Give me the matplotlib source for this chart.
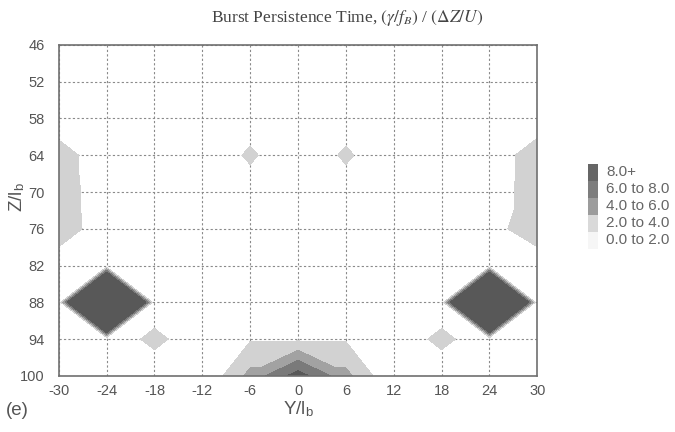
import numpy as np
import matplotlib.pyplot as plt
import matplotlib.tri as mtri
from matplotlib.patches import Rectangle

plt.rcParams['font.family'] = ['Liberation Sans Narrow', 'Liberation Sans', 'DejaVu Sans']
plt.rcParams['mathtext.fontset'] = 'stix'
plt.rcParams['axes.unicode_minus'] = False

# grid of stations
y_pos = [-30, -24, -18, -12, -6, 0, 6, 12, 18, 24, 30]
z_pos = [46, 52, 58, 64, 70, 76, 82, 88, 94, 100]

# burst persistence time, one row per Z/lb (top to bottom)
row_46 = [0, 0, 0, 0, 0, 0, 0, 0, 0, 0, 0]
row_52 = [0, 0, 0, 0, 0, 0, 0, 0, 0, 0, 0]
row_58 = [0, 0, 0, 0, 0.8, 0, 0.8, 0, 0, 0, 0]
row_64 = [3.4, 0, 0, 0, 2.4, 0, 2.4, 0, 0, 0, 3.7]
row_70 = [3.7, 0, 0, 0, 0.8, 0, 0.8, 0, 0, 0, 3.8]
row_76 = [3.9, 0, 0, 0, 0, 0, 0, 0, 0, 0.8, 3.9]
row_82 = [0, 0, 0, 0, 0, 0, 0, 0, 0, 0, 0]
row_88 = [0, 45, 0, 0, 0, 0, 0, 0, 0, 45, 0]
row_94 = [0, 0, 2.8, 0, 1.8, 1.8, 1.8, 0, 2.8, 0, 0]
row_100 = [0, 0, 0, 0, 4.6, 9.0, 4.6, 0, 0, 0, 0]

levels = [2, 4, 6, 8, 1000]
legend_labels = ['8.0+', '6.0 to 8.0', '4.0 to 6.0', '2.0 to 4.0', '0.0 to 2.0']
fill_colors = ['#d2d2d2', '#a2a2a2', '#7a7a7a', '#585858']
legend_colors = ['#666666', '#7d7d7d', '#9c9c9c', '#d9d9d9', '#f6f6f6']

vals = np.array([row_46, row_52, row_58, row_64, row_70, row_76,
                 row_82, row_88, row_94, row_100], dtype=float)
YY, ZZ = np.meshgrid(y_pos, z_pos)
zf = vals.ravel()
ny, nz = len(y_pos), len(z_pos)

# split each cell so that isolated peaks stay isolated (no saddle bridges)
tris = []
for i in range(nz - 1):
    for j in range(ny - 1):
        a = i * ny + j
        b = a + 1
        c = a + ny
        d = c + 1
        if zf[a] + zf[d] <= zf[b] + zf[c]:
            tris += [[a, b, d], [a, d, c]]
        else:
            tris += [[a, b, c], [b, d, c]]
tri = mtri.Triangulation(YY.ravel(), ZZ.ravel(), tris)

fig = plt.figure(figsize=(6.75, 4.32), dpi=100)
ax = fig.add_axes([0.087, 0.130, 0.709, 0.766])

ax.tricontourf(tri, zf, levels=levels, colors=fill_colors, zorder=1)

ax.set_xlim(-30, 30)
ax.set_ylim(100, 46)
ax.set_xticks(y_pos)
ax.set_yticks(z_pos)
ax.grid(True, color='#8a8a8a', linestyle=(0, (2, 2)), linewidth=0.8)
ax.set_axisbelow(True)
ax.tick_params(length=0, labelsize=10.5, labelcolor='#555555')
ax.tick_params(axis='y', pad=10)
ax.tick_params(axis='x', pad=6)
for s in ax.spines.values():
    s.set_color('#707070')
    s.set_linewidth(1.2)

ax.set_xlabel(r'Y/l$_{\mathregular{b}}$', fontsize=13.5, color='#555555', labelpad=1)
ax.set_ylabel(r'Z/l$_{\mathregular{b}}$', fontsize=13.5, color='#555555')
ax.yaxis.set_label_coords(-0.066, 0.54)

fig.text(0.514, 0.982, r'Burst Persistence Time, $(\gamma/f_B)$ / $(\Delta Z/U)$',
         ha='center', va='top', fontsize=12.5, color='#444444',
         family='Liberation Serif')
fig.text(0.008, 0.04, '(e)', fontsize=13.5, color='#555555')

# legend as stacked swatches
sw_x, sw_w, sw_h = 588 / 675, 10 / 675, 17 / 432
top = 1 - 163.5 / 432
for k, (lab, col) in enumerate(zip(legend_labels, legend_colors)):
    y0 = top - (k + 1) * sw_h
    fig.patches.append(Rectangle((sw_x, y0), sw_w, sw_h, facecolor=col,
                                 edgecolor='none', transform=fig.transFigure))
    fig.text(606 / 675, y0 + sw_h / 2, lab, va='center', ha='left',
             fontsize=11, color='#666666')

fig.savefig('out.png', dpi=100)
